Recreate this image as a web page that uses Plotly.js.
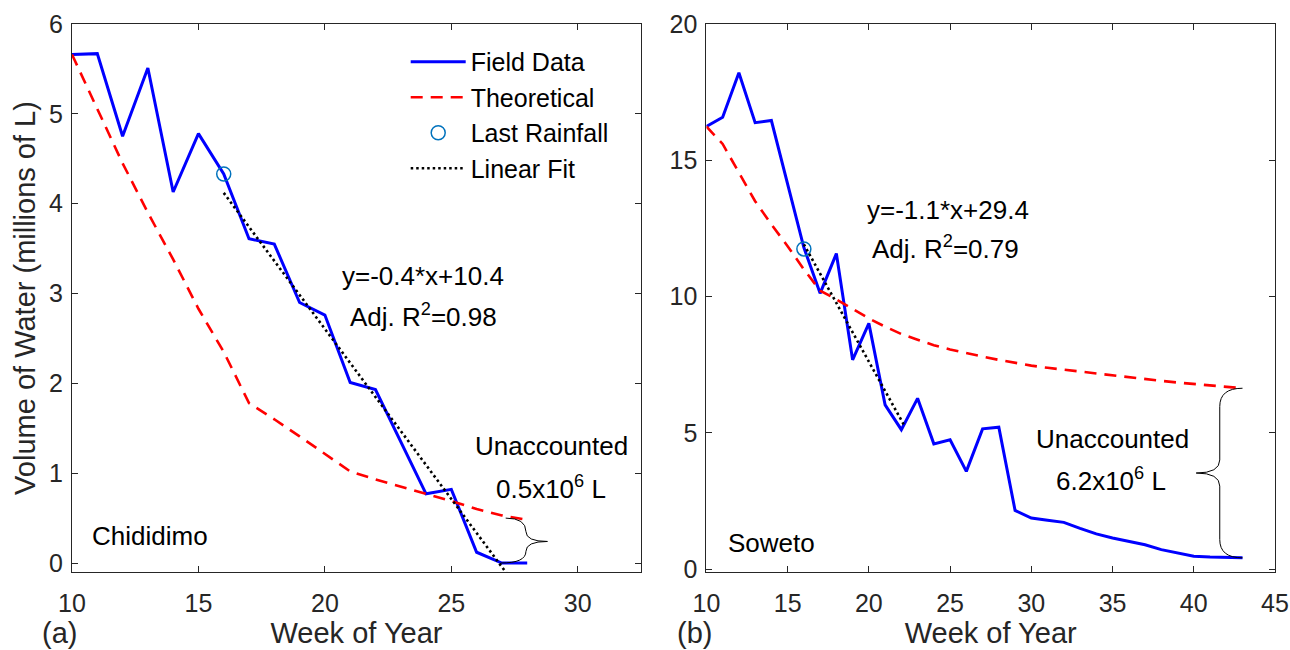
<!DOCTYPE html>
<html>
<head>
<meta charset="utf-8">
<script src="https://cdn.plot.ly/plotly-3.0.1.min.js"></script>
<style>html,body{margin:0;padding:0;background:#fff;}#chart{width:1290px;height:650px;}</style>
</head>
<body>
<div id="chart"></div>
<script>
// ---------- Data ----------
const chWeeks  = [10,11,12,13,14,15,16,17,18,19,20,21,22,23,24,25,26,27,28];
const chField  = [5.66,5.67,4.75,5.51,4.13,4.78,4.33,3.61,3.55,2.90,2.76,2.01,1.93,1.35,0.77,0.82,0.12,0.00,0.00];
const chTheory = [5.66,5.05,4.45,3.90,3.38,2.83,2.35,1.78,1.60,1.41,1.22,1.02,0.93,0.85,0.77,0.69,0.60,0.53,0.48];
const chRainWeek = [16];
const chRainVal  = [4.33];
const chFitWeeks = [16, 27.2];
const chFitVals  = [4.12, -0.12];

const swWeeks  = [10,11,12,13,14,15,16,17,18,19,20,21,22,23,24,25,26,27,28,29,30,31,32,33,34,35,36,37,38,39,40,41,42,43];
const swField  = [16.24,16.58,18.21,16.38,16.46,14.13,11.80,10.12,11.58,7.68,9.02,6.03,5.12,6.27,4.60,4.75,3.59,5.15,5.21,2.16,1.88,1.80,1.72,1.50,1.30,1.15,1.03,0.90,0.72,0.60,0.48,0.45,0.43,0.42];
const swTheory = [16.24,15.60,14.55,13.50,12.65,11.85,11.00,10.22,9.90,9.55,9.20,8.90,8.63,8.42,8.22,8.06,7.92,7.80,7.68,7.57,7.47,7.39,7.32,7.24,7.17,7.10,7.03,6.97,6.91,6.85,6.80,6.74,6.69,6.64];
const swRainWeek = [16];
const swRainVal  = [11.75];
const swFitWeeks = [16, 22.2];
const swFitVals  = [11.92, 5.25];

const seriesNames = ["Field Data", "Theoretical", "Last Rainfall", "Linear Fit"];
const chTicksX = [10,15,20,25,30];
const swTicksX = [10,15,20,25,30,35,40,45];
const chTicksY = [0,1,2,3,4,5,6];
const swTicksY = [0,5,10,15,20];
const chEq = "y=-0.4*x+10.4", chR2 = "Adj. R<sup>2</sup>=0.98", chGap = "0.5x10<sup>6</sup> L";
const swEq = "y=-1.1*x+29.4", swR2 = "Adj. R<sup>2</sup>=0.79", swGap = "6.2x10<sup>6</sup> L";

// ---------- Styles ----------
const FONT = "Liberation Sans, Arial, Helvetica, sans-serif";
const AX = "#262626";
const BLUE = "#0000FF", RED = "#FF0000", CIRC = "#0072BD";

function panelTraces(w, f, t, rw, rv, fw, fv, xa, ya, show) {
  return [
    {x: w, y: f, xaxis: xa, yaxis: ya, type: "scatter", mode: "lines", name: seriesNames[0], showlegend: show,
     line: {color: BLUE, width: 3}},
    {x: w, y: t, xaxis: xa, yaxis: ya, type: "scatter", mode: "lines", name: seriesNames[1], showlegend: show,
     line: {color: RED, width: 2.6, dash: "12px,8px"}},
    {x: rw, y: rv, xaxis: xa, yaxis: ya, type: "scatter", mode: "markers", name: seriesNames[2], showlegend: show,
     marker: {symbol: "circle-open", size: 14, color: CIRC, line: {width: 1.5, color: CIRC}}},
    {x: fw, y: fv, xaxis: xa, yaxis: ya, type: "scatter", mode: "lines", name: seriesNames[3], showlegend: show,
     line: {color: "#000000", width: 2.6, dash: "2.5px,3px"}}
  ];
}

const data = [].concat(
  panelTraces(chWeeks, chField, chTheory, chRainWeek, chRainVal, chFitWeeks, chFitVals, "x", "y", true),
  panelTraces(swWeeks, swField, swTheory, swRainWeek, swRainVal, swFitWeeks, swFitVals, "x2", "y2", false)
);

// ---------- Layout ----------
const W = 1290, H = 650;
const L = 72.3, R = 14.7, T = 24, B = 77.5;
const PW = W - L - R, PH = H - T - B;
const px = v => (v - L) / PW;          // pixel -> paper x
const py = v => (H - B - v) / PH;      // pixel -> paper y

function axis(range, ticks, domain, anchor, isX, title, titleStandoff) {
  const a = {
    domain: domain, range: range, anchor: anchor, tickvals: ticks, ticktext: ticks.map(String),
    ticks: "inside", ticklen: 6, tickwidth: 1, tickcolor: AX,
    showline: true, linecolor: AX, linewidth: 1, mirror: "ticks",
    showgrid: false, zeroline: false, fixedrange: true,
    ticklabelstandoff: isX ? 9 : 3,
    tickfont: {family: FONT, size: 25, color: AX}
  };
  if (title) a.title = {text: title, font: {family: FONT, size: 29, color: AX}, standoff: titleStandoff};
  return a;
}

// brace helpers (built from data ends)
const chEndX = chWeeks[chWeeks.length - 1];
const chTop = chTheory[chTheory.length - 1], chBot = chField[chField.length - 1];
const chMid = (chTop + chBot) / 2;
const braceA = `M ${chEndX-0.85},${chTop+0.02} Q ${chEndX-0.05},${chTop+0.02} ${chEndX-0.05},${chMid+0.11} ` +
               `Q ${chEndX-0.05},${chMid} ${chEndX+0.8},${chMid} ` +
               `Q ${chEndX-0.05},${chMid} ${chEndX-0.05},${chMid-0.11} ` +
               `Q ${chEndX-0.05},${chBot} ${chEndX-1.05},${chBot}`;

const swEndX = swWeeks[swWeeks.length - 1];
const swTop = swTheory[swTheory.length - 1], swBot = swField[swField.length - 1];
const swMid = (swTop + swBot) / 2;
const spine = swEndX - 1.4, tip = swEndX - 2.85;
const braceB = `M ${swEndX},${swTop} Q ${spine},${swTop} ${spine},${swTop-0.67} L ${spine},${swMid+0.48} ` +
               `Q ${spine},${swMid} ${tip},${swMid} Q ${spine},${swMid} ${spine},${swMid-0.48} ` +
               `L ${spine},${swBot+0.67} Q ${spine},${swBot} ${swEndX},${swBot}`;

function txt(xref, yref, x, y, text, xanchor) {
  return {xref: xref, yref: yref, x: x, y: y, text: text, showarrow: false,
          xanchor: xanchor || "center", yanchor: "middle",
          font: {family: FONT, size: 26, color: "#000"}};
}

const layout = {
  width: W, height: H,
  margin: {l: L, r: R, t: T, b: B, pad: 0},
  paper_bgcolor: "#fff", plot_bgcolor: "#fff",
  font: {family: FONT, color: AX},
  xaxis:  axis([10, 32.5], chTicksX, [0, px(641.3)], "y", true, "Week of Year", 4),
  yaxis:  axis([-0.1, 6], chTicksY, [0, 1], "x", false, "Volume of Water (millions of L)", 4),
  xaxis2: axis([10, 45], swTicksX, [px(706.7), 1], "y2", true, "Week of Year", 4),
  yaxis2: axis([-0.1, 20], swTicksY, [0, 1], "x2", false),
  showlegend: true,
  legend: {x: px(406), y: py(39), xanchor: "left", yanchor: "top", bgcolor: "rgba(0,0,0,0)",
           borderwidth: 0, itemwidth: 55, font: {family: FONT, size: 25, color: "#000"}},
  shapes: [
    {type: "path", xref: "x", yref: "y", path: braceA, line: {color: "#000", width: 1}},
    {type: "path", xref: "x2", yref: "y2", path: braceB, line: {color: "#000", width: 1}}
  ],
  annotations: [
    txt("x", "y", 23.86, 3.19, chEq),
    txt("x", "y", 23.9, 2.75, chR2),
    txt("x", "y", 28.97, 1.30, "Unaccounted"),
    txt("x", "y", 28.95, 0.84, chGap),
    txt("x", "y", 10.7, 0.30, "Chididimo", "left"),
    txt("x2", "y2", 24.85, 13.17, swEq),
    txt("x2", "y2", 24.7, 11.8, swR2),
    txt("x2", "y2", 35.0, 4.77, "Unaccounted"),
    txt("x2", "y2", 34.9, 3.28, swGap),
    txt("x2", "y2", 11.2, 0.98, "Soweto", "left"),
    Object.assign(txt("paper", "paper", px(60), py(634), "(a)"), {font: {family: FONT, size: 29, color: AX}}),
    Object.assign(txt("paper", "paper", px(695), py(634), "(b)"), {font: {family: FONT, size: 29, color: AX}})
  ]
};

Plotly.newPlot("chart", data, layout, {displayModeBar: false, staticPlot: true});
</script>
</body>
</html>
